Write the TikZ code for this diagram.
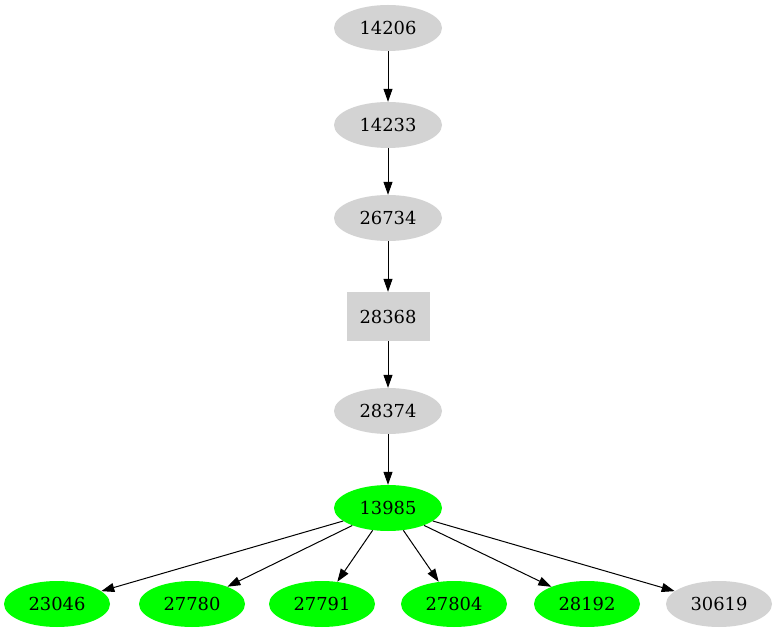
\documentclass[tikz,border=0pt]{standalone}
\usepackage{fontspec}
\setmainfont{DejaVu Serif}
\usetikzlibrary{arrows.meta,shapes.geometric}
\definecolor{lgray}{HTML}{D3D3D3}
\definecolor{vgreen}{HTML}{00FF00}
\begin{document}
\begin{tikzpicture}[x=1pt,y=1pt,
  ell/.style={ellipse,fill=lgray,minimum width=108pt,minimum height=46pt,inner sep=0pt,font=\fontsize{17.9pt}{20pt}\selectfont},
  gell/.style={ell,fill=vgreen},
  gbox/.style={rectangle,fill=lgray,minimum width=83pt,minimum height=49pt,inner sep=0pt,font=\fontsize{17.9pt}{20pt}\selectfont},
  arr/.style={-{Triangle[length=13pt,width=9pt]},line width=1pt}]
\useasboundingbox (0,0) rectangle (778,635);
\node[ell] (a) at (388,607) {14206};
\node[ell] (b) at (388,510) {14233};
\node[ell] (c) at (388,417) {26734};
\node[gbox] (d) at (388,318.5) {28368};
\node[ell] (e) at (388,224) {28374};
\node[gell] (f) at (388,127) {13985};
\node[gell,minimum width=106pt] (g1) at (57,31) {23046};
\node[gell,minimum width=106pt] (g2) at (192,31) {27780};
\node[gell,minimum width=106pt] (g3) at (322,31) {27791};
\node[gell,minimum width=106pt] (g4) at (454,31) {27804};
\node[gell,minimum width=106pt] (g5) at (587,31) {28192};
\node[ell,minimum width=106pt] (g6) at (719,31) {30619};
\draw[arr] (a) -- (b);
\draw[arr] (b) -- (c);
\draw[arr] (c) -- (d);
\draw[arr] (d) -- (e);
\draw[arr] (e) -- (f);
\draw[arr] (f) -- (g1);
\draw[arr] (f) -- (g2);
\draw[arr] (f) -- (g3);
\draw[arr] (f) -- (g4);
\draw[arr] (f) -- (g5);
\draw[arr] (f) -- (g6);
\end{tikzpicture}
\end{document}
